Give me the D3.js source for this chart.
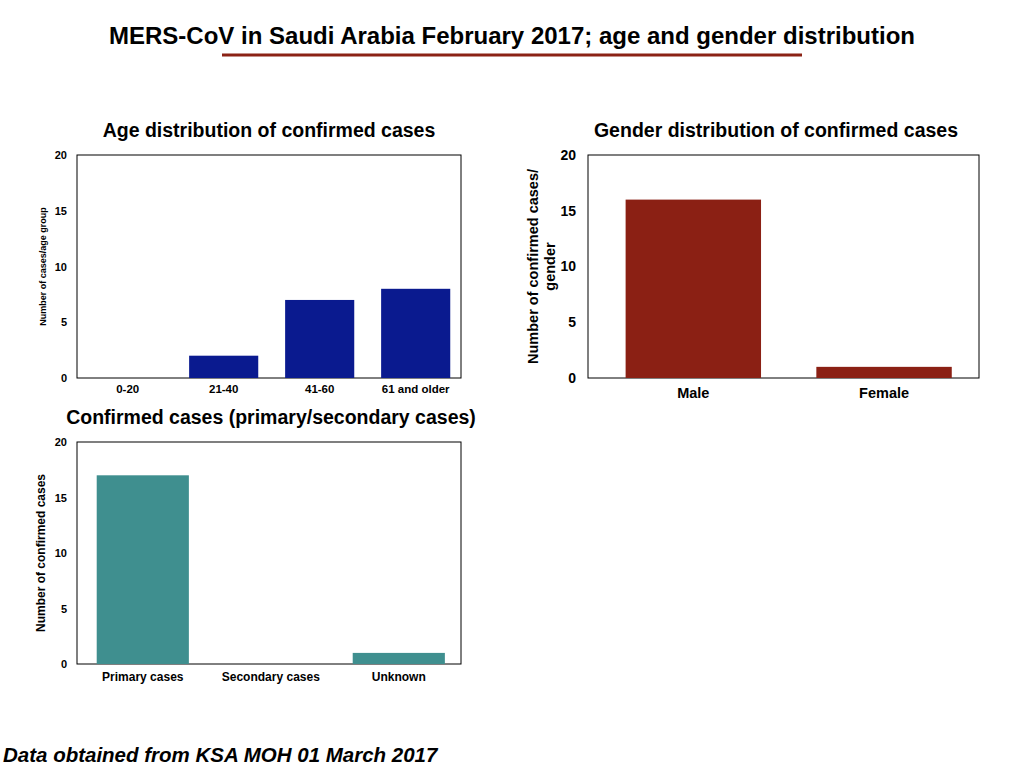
<!DOCTYPE html><html><head><meta charset="utf-8">
<script src="https://cdn.jsdelivr.net/npm/d3@7"></script>
<style>body{margin:0;background:#fff}svg{font-family:"Liberation Sans",Arial,sans-serif;font-weight:bold}</style></head><body>
<svg id="s" width="1024" height="768"></svg>
<script>
const yTicks=[0,5,10,15,20];
const ageCats=["0-20","21-40","41-60","61 and older"];
const ageVals=[0,2,7,8];
const genderCats=["Male","Female"];
const genderVals=[16,1];
const typeCats=["Primary cases","Secondary cases","Unknown"];
const typeVals=[17,0,1];

const svg=d3.select("#s");
svg.append("text").attr("x",512).attr("y",44).attr("text-anchor","middle").attr("font-size",24).text("MERS-CoV in Saudi Arabia February 2017; age and gender distribution");
svg.append("line").attr("x1",222).attr("x2",802).attr("y1",55).attr("y2",55).attr("stroke","#8B2215").attr("stroke-width",3);
svg.append("text").attr("x",3).attr("y",762).attr("font-size",20.5).attr("font-style","italic").text("Data obtained from KSA MOH 01 March 2017");

function chart(o){
  const g=svg.append("g");
  const x=d3.scaleBand().domain(o.cats).range([o.x0,o.x1]).paddingInner(o.pad).paddingOuter(o.po).align(o.al);
  const y=d3.scaleLinear().domain([0,20]).range([o.y1,o.y0]);
  g.append("rect").attr("x",o.x0).attr("y",o.y0).attr("width",o.x1-o.x0).attr("height",o.y1-o.y0).attr("fill","none").attr("stroke","#000");
  g.selectAll(".b").data(o.vals).join("rect").attr("x",(d,i)=>x(o.cats[i])).attr("width",x.bandwidth())
    .attr("y",d=>y(d)).attr("height",d=>y(0)-y(d)).attr("fill",o.color);
  const ya=g.append("g").attr("transform",`translate(${o.x0},0)`).call(d3.axisLeft(y).tickValues(yTicks).tickSize(0).tickPadding(o.yPad));
  ya.select(".domain").remove();
  ya.selectAll("text").attr("font-size",o.tf).attr("font-family","inherit").attr("font-weight","bold").attr("fill","#000");
  const xa=g.append("g").attr("transform",`translate(0,${o.y1})`).call(d3.axisBottom(x).tickSize(0).tickPadding(o.xPad));
  xa.select(".domain").remove();
  xa.selectAll("text").attr("font-size",o.xf).attr("font-family","inherit").attr("font-weight","bold").attr("fill","#000");
  g.append("text").attr("x",o.tx).attr("y",o.y0-18).attr("text-anchor","middle").attr("font-size",19.5).text(o.title);
  const cy=(o.y0+o.y1)/2;
  o.ylab.forEach((l,i)=>g.append("text").attr("transform",`translate(${o.lx+i*o.lf*1.15},${cy}) rotate(-90)`).attr("text-anchor","middle").attr("font-size",o.lf).text(l));
}
chart({x0:77,x1:461,y0:155,y1:378,cats:ageCats,vals:ageVals,pad:0.28,po:0.14,al:0.6,color:"#0A1A8F",tf:11,xf:11.5,yPad:10,xPad:7,tx:269,title:"Age distribution of confirmed cases",ylab:["Number of cases/age group"],lx:46,lf:9});
chart({x0:588,x1:979,y0:155,y1:378,cats:genderCats,vals:genderVals,pad:0.29,po:0.17,al:0.58,color:"#8B2014",tf:14,xf:14.5,yPad:12,xPad:10,tx:776,title:"Gender distribution of confirmed cases",ylab:["Number of confirmed cases/","gender"],lx:538,lf:14.5});
chart({x0:77,x1:461,y0:442,y1:664,cats:typeCats,vals:typeVals,pad:0.28,po:0.14,al:0.55,color:"#3F8F8F",tf:11,xf:12,yPad:10,xPad:8,tx:271,title:"Confirmed cases (primary/secondary cases)",ylab:["Number of confirmed cases"],lx:45,lf:12});
</script></body></html>
